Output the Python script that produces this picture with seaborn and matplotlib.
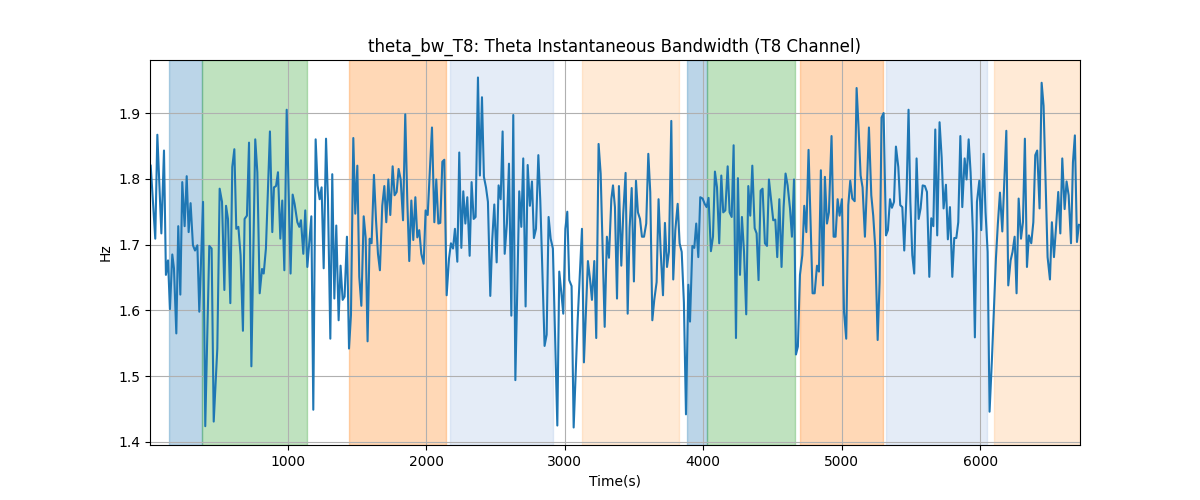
import matplotlib
matplotlib.use("Agg")
import matplotlib.pyplot as plt
import seaborn as sns
import pandas as pd

title = "theta_bw_T8: Theta Instantaneous Bandwidth (T8 Channel)"
x_label = "Time(s)"
y_label = "Hz"

times = [
    10, 43, 58, 87, 106, 120, 135, 149, 166, 178, 195, 209, 224, 238, 255, 270, 284, 298, 315, 330,
    347, 361, 388, 404, 433, 450, 465, 491, 508, 525, 542, 554, 568, 585, 599, 614, 628, 643, 659, 676,
    688, 705, 720, 737, 765, 780, 797, 814, 826, 842, 871, 888, 900, 915, 929, 946, 960, 975, 992, 1020,
    1035, 1049, 1069, 1083,
    1095, 1112, 1126, 1141, 1170, 1184, 1201, 1215, 1230, 1244, 1259, 1276, 1290, 1307, 1321, 1336,
    1350, 1367, 1381, 1396, 1410, 1427, 1442, 1456, 1473, 1487, 1502, 1516, 1531, 1548, 1562, 1576,
    1591, 1605, 1622, 1637, 1651, 1665, 1682, 1697, 1711, 1726, 1740, 1757, 1771, 1786, 1800, 1815,
    1832, 1848, 1863, 1877, 1892, 1906, 1921, 1935, 1949, 1964, 1981, 1995, 2010, 2041, 2058, 2072,
    2087, 2101, 2116, 2130, 2147, 2164, 2178, 2193, 2207, 2224,
    2238, 2253, 2267, 2282, 2296, 2313, 2327, 2342, 2356, 2373, 2387, 2402, 2416, 2431, 2445, 2462,
    2476, 2491, 2508, 2522, 2537, 2551, 2566, 2582, 2597, 2614, 2628, 2643, 2657, 2671, 2686, 2700,
    2717, 2732, 2748, 2763, 2777, 2792, 2809, 2823, 2854, 2869, 2883, 2898, 2914, 2946, 2960, 2975,
    2989, 3004, 3018, 3032, 3049, 3064, 3093, 3124, 3138, 3167, 3182, 3196, 3213, 3227, 3244, 3259,
    3288, 3304, 3319, 3336,
    3348, 3362, 3377, 3391, 3408, 3422, 3439, 3454, 3468, 3483, 3499, 3514, 3528, 3543, 3557, 3572,
    3588, 3603, 3617, 3632, 3646, 3663, 3677, 3692, 3709, 3723, 3738, 3752, 3769, 3783, 3798, 3815,
    3829, 3844, 3860, 3875, 3892, 3904, 3921, 3935, 3949, 3964, 3978, 3995, 4010, 4024, 4038, 4055,
    4070, 4084, 4099, 4115, 4130, 4144, 4159, 4176, 4190, 4205, 4219, 4236, 4250, 4265, 4279, 4294,
    4310, 4325, 4339, 4354, 4371, 4385, 4399, 4414, 4428,
    4445, 4460, 4474, 4491, 4505, 4520, 4534, 4549, 4565, 4580, 4594, 4609, 4626, 4640, 4655, 4669,
    4683, 4698, 4715, 4729, 4744, 4760, 4775, 4789, 4804, 4821, 4835, 4849, 4864, 4878, 4893, 4907,
    4926, 4941, 4955, 4970, 4984, 5001, 5016, 5032, 5047, 5061, 5076, 5093, 5107, 5121, 5136, 5150,
    5167, 5182, 5196, 5213, 5227, 5242, 5259, 5273, 5287, 5302, 5319, 5333, 5348, 5362, 5377, 5391,
    5408, 5422, 5437, 5451, 5468, 5482,
    5495, 5509, 5523, 5540, 5555, 5569, 5584, 5600, 5615, 5632, 5646, 5661, 5675, 5689, 5706, 5721,
    5735, 5752, 5766, 5781, 5798, 5812, 5827, 5841, 5856, 5870, 5887, 5901, 5916, 5930, 5947, 5961,
    5976, 5993, 6007, 6024, 6038, 6053, 6067, 6084, 6099, 6113, 6127, 6142, 6159, 6173, 6188, 6202,
    6219, 6233, 6248, 6262, 6277, 6294, 6308, 6322, 6337, 6351, 6368, 6383, 6397, 6411, 6428, 6443,
    6457, 6472, 6486, 6503, 6517, 6532, 6549, 6563, 6578, 6592, 6609, 6623, 6638, 6655, 6669, 6683,
    6698, 6712,
]

bandwidth = [
    1.820, 1.709, 1.867, 1.717, 1.843, 1.654, 1.676, 1.602, 1.685, 1.664, 1.565, 1.728, 1.624, 1.795, 1.728, 1.804, 1.719, 1.763, 1.699, 1.691,
    1.699, 1.598, 1.765, 1.424, 1.698, 1.694, 1.431, 1.542, 1.785, 1.765, 1.631, 1.759, 1.739, 1.611, 1.818, 1.845, 1.724, 1.727, 1.684, 1.569,
    1.739, 1.744, 1.855, 1.515, 1.860, 1.810, 1.626, 1.663, 1.656, 1.694, 1.872, 1.719, 1.787, 1.789, 1.810, 1.709, 1.767, 1.661, 1.905, 1.656,
    1.776, 1.762, 1.734, 1.727,
    1.737, 1.686, 1.752, 1.666, 1.743, 1.449, 1.860, 1.790, 1.769, 1.787, 1.664, 1.861, 1.767, 1.557, 1.807, 1.618,
    1.729, 1.585, 1.668, 1.616, 1.621, 1.712, 1.542, 1.593, 1.862, 1.747, 1.820, 1.651, 1.607, 1.743, 1.711, 1.553,
    1.709, 1.702, 1.806, 1.737, 1.686, 1.661, 1.759, 1.789, 1.734, 1.799, 1.745, 1.819, 1.775, 1.780, 1.815, 1.799,
    1.737, 1.898, 1.765, 1.675, 1.767, 1.707, 1.772, 1.711, 1.722, 1.686, 1.671, 1.752, 1.745, 1.878, 1.734, 1.799,
    1.732, 1.733, 1.826, 1.829, 1.623, 1.679, 1.702, 1.694, 1.724, 1.674,
    1.840, 1.695, 1.781, 1.732, 1.772, 1.683, 1.795, 1.739, 1.742, 1.954, 1.805, 1.924, 1.803, 1.787, 1.765, 1.622,
    1.707, 1.761, 1.673, 1.790, 1.769, 1.872, 1.686, 1.732, 1.823, 1.592, 1.897, 1.494, 1.633, 1.781, 1.727, 1.831,
    1.606, 1.821, 1.759, 1.796, 1.710, 1.724, 1.836, 1.767, 1.546, 1.563, 1.742, 1.709, 1.694, 1.425, 1.659, 1.627,
    1.595, 1.724, 1.750, 1.646, 1.637, 1.422, 1.585, 1.724, 1.521, 1.675, 1.648, 1.616, 1.675, 1.558, 1.853, 1.808,
    1.575, 1.712, 1.680, 1.769,
    1.790, 1.757, 1.618, 1.789, 1.668, 1.747, 1.809, 1.595, 1.725, 1.786, 1.644, 1.797, 1.749, 1.739, 1.712, 1.712,
    1.732, 1.838, 1.780, 1.585, 1.616, 1.643, 1.769, 1.691, 1.623, 1.733, 1.666, 1.689, 1.888, 1.647, 1.722, 1.762,
    1.702, 1.689, 1.612, 1.442, 1.639, 1.583, 1.698, 1.695, 1.732, 1.681, 1.772, 1.770, 1.762, 1.757, 1.771, 1.690,
    1.712, 1.811, 1.787, 1.702, 1.805, 1.749, 1.752, 1.819, 1.749, 1.742, 1.851, 1.558, 1.801, 1.654, 1.742, 1.689,
    1.594, 1.789, 1.744, 1.820, 1.725, 1.717, 1.646, 1.782, 1.785,
    1.702, 1.698, 1.799, 1.765, 1.737, 1.738, 1.681, 1.769, 1.666, 1.757, 1.808, 1.790, 1.755, 1.712, 1.799, 1.533,
    1.545, 1.654, 1.684, 1.759, 1.719, 1.844, 1.734, 1.626, 1.626, 1.668, 1.659, 1.813, 1.638, 1.803, 1.732, 1.749,
    1.865, 1.712, 1.712, 1.769, 1.744, 1.769, 1.598, 1.557, 1.760, 1.797, 1.770, 1.766, 1.938, 1.878, 1.805, 1.787,
    1.712, 1.792, 1.878, 1.775, 1.744, 1.694, 1.555, 1.643, 1.893, 1.900, 1.714, 1.722, 1.769, 1.756, 1.765, 1.849,
    1.818, 1.760, 1.757, 1.691, 1.780, 1.905,
    1.765, 1.684, 1.656, 1.831, 1.739, 1.755, 1.790, 1.789, 1.780, 1.651, 1.740, 1.728, 1.875, 1.714, 1.886, 1.833,
    1.755, 1.791, 1.708, 1.757, 1.651, 1.710, 1.710, 1.734, 1.865, 1.757, 1.831, 1.799, 1.860, 1.810, 1.717, 1.559,
    1.765, 1.797, 1.722, 1.838, 1.749, 1.689, 1.446, 1.525, 1.603, 1.679, 1.732, 1.779, 1.720, 1.795, 1.873, 1.638,
    1.676, 1.689, 1.712, 1.626, 1.770, 1.709, 1.734, 1.861, 1.666, 1.714, 1.702, 1.734, 1.836, 1.843, 1.755, 1.946,
    1.911, 1.795, 1.681, 1.647, 1.734, 1.681, 1.733, 1.780, 1.717, 1.831, 1.754, 1.796, 1.775, 1.702, 1.825, 1.866,
    1.704, 1.730,
]

span_starts = [144, 383, 1444, 2173, 3126, 3884, 4025, 4700, 5321, 6101]
span_ends = [383, 1136, 2142, 2914, 3827, 4025, 4664, 5297, 6050, 6720]
span_kinds = ["blue", "green", "orange", "lightblue", "lightorange",
              "blue", "green", "orange", "lightblue", "lightorange"]

span_style = {
    "blue": ("tab:blue", 0.3),
    "green": ("tab:green", 0.3),
    "orange": ("tab:orange", 0.3),
    "lightblue": ("#aec7e8", 0.33),
    "lightorange": ("#ffbb78", 0.3),
}

df = pd.DataFrame({"time": times, "bw": bandwidth})

fig, ax = plt.subplots(figsize=(12, 5), dpi=100)
for s, e, k in zip(span_starts, span_ends, span_kinds):
    c, a = span_style[k]
    ax.axvspan(s, e, color=c, alpha=a)

sns.lineplot(data=df, x="time", y="bw", ax=ax, color="tab:blue", linewidth=1.5)
ax.set_xlim(5, span_ends[-1])
ax.grid(True)
ax.set_title(title)
ax.set_xlabel(x_label)
ax.set_ylabel(y_label)
fig.savefig("out.png", dpi=100)
